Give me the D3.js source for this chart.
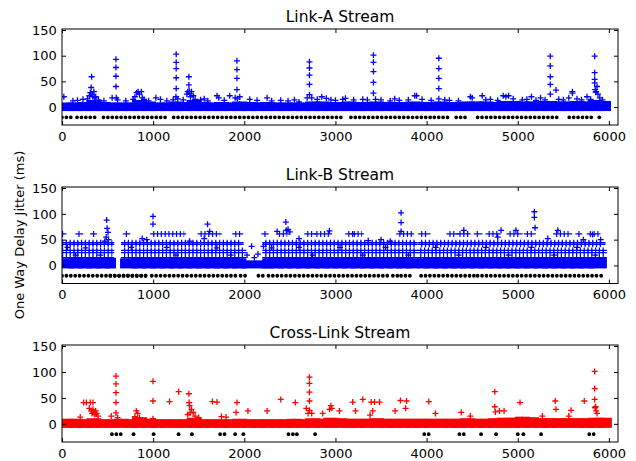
<!DOCTYPE html>
<html><head><meta charset="utf-8">
<script src="https://cdn.jsdelivr.net/npm/d3@7"></script>
<style>
body{margin:0;background:#fff}
text{font-family:"DejaVu Sans",sans-serif;fill:#000}
</style>
</head><body>
<svg id="chart" width="636" height="461"></svg>
<script>
// ---------------- data ----------------
const titles = ["Link-A Stream", "Link-B Stream", "Cross-Link Stream"];
const yLabel = "One Way Delay Jitter (ms)";
const xTicks = [0, 1000, 2000, 3000, 4000, 5000, 6000];
const yTicks = [0, 50, 100, 150];
const xDomain = [0, 6100];
const yDomain = [-35, 152];
const dropLevel = -20;

// dense band of samples: [x where band segment starts, top value of the band] (null = no samples)
const linkABandBottom = -2;
const linkABand = [[0,3],[100,3],[200,4],[300,8],[400,4],[500,3],[600,3],[700,3],[800,8],[900,5],
 [1000,3],[1100,3],[1200,5],[1300,4],[1400,8],[1500,4],[1600,3],[1700,4],[1800,3],[1900,5],
 [2000,4],[2100,3],[2200,4],[2300,3],[2400,3],[2500,3],[2600,3],[2700,5],[2800,5],[2900,4],
 [3000,4],[3100,5],[3200,4],[3300,4],[3400,5],[3500,4],[3600,4],[3700,4],[3800,5],[3900,4],
 [4000,4],[4100,5],[4200,4],[4300,4],[4400,5],[4500,5],[4600,5],[4700,4],[4800,6],[4900,6],
 [5000,5],[5100,5],[5200,6],[5300,6],[5400,5],[5500,5],[5600,6],[5700,5],[5800,8],[5900,6],[5990,null]];
const linkAOutliers = [[20,20],[120,12],[170,13],[230,15],[280,16],[300,22],[310,28],[320,38],[325,59],[330,25],
 [340,20],[350,30],[360,18],[370,20],[400,14],[460,12],[550,18],[592,93],[592,77],[592,60],[592,40],[595,18],
 [610,14],[700,12],[780,15],[800,20],[820,28],[835,30],[850,25],[870,30],[880,18],[900,15],[950,12],[1030,18],
 [1080,15],[1150,12],[1220,14],[1253,103],[1253,87],[1253,75],[1253,57],[1253,36],[1250,20],[1270,16],[1330,14],
 [1370,25],[1380,30],[1392,59],[1392,43],[1395,31],[1400,26],[1410,20],[1420,30],[1440,22],[1460,15],[1520,14],
 [1560,16],[1600,12],[1700,22],[1720,18],[1780,13],[1840,22],[1900,18],[1919,90],[1919,73],[1919,56],[1919,34],
 [1925,16],[1950,20],[2060,15],[2140,13],[2250,18],[2300,12],[2400,13],[2480,12],[2550,14],[2600,10],[2690,18],
 [2715,88],[2715,76],[2715,62],[2715,44],[2715,24],[2740,18],[2800,15],[2850,20],[2900,17],[2950,14],[3000,13],
 [3080,15],[3110,17],[3200,14],[3300,15],[3350,14],[3417,101],[3417,87],[3417,69],[3417,48],[3417,27],[3440,15],
 [3500,14],[3600,12],[3650,16],[3700,13],[3800,14],[3870,22],[3890,22],[3950,15],[4050,13],[4134,95],[4134,75],
 [4134,56],[4134,36],[4134,16],[4200,14],[4250,13],[4350,12],[4480,20],[4500,18],[4610,22],[4650,14],[4700,15],
 [4780,13],[4840,22],[4870,20],[4900,22],[4950,16],[5050,14],[5100,15],[5150,20],[5200,13],[5250,18],[5300,14],
 [5357,99],[5357,80],[5357,59],[5357,44],[5357,25],[5420,33],[5450,15],[5500,14],[5560,18],[5600,30],[5600,27],
 [5650,16],[5700,14],[5760,20],[5800,15],[5844,99],[5844,67],[5844,54],[5844,47],[5850,34],[5855,29],[5860,30],
 [5870,40],[5880,25],[5900,18],[5930,14]];
const linkARows = [];
// lost packets drawn at the drop level: [from x, to x]
const linkADrops = [[0,110],[165,385],[455,1170],[1225,1335],[1370,3080],[3170,4050],[4085,4270],[4325,4450],
 [4560,4910],[4945,5455],[5565,5840],[5895,5895]];

const linkBBandBottom = 0;
const linkBBand = [[0,8],[100,9],[200,8],[300,9],[400,9],[500,9],[560,null],[670,8],[800,9],[900,9],
 [1000,9],[1100,8],[1200,9],[1300,8],[1400,9],[1500,8],[1600,9],[1700,8],[1800,9],[1900,8],[1990,4],
 [2230,8],[2300,9],[2400,8],[2500,9],[2600,8],[2700,9],[2800,8],[2900,9],[3000,8],[3100,9],[3200,8],
 [3300,9],[3400,8],[3500,9],[3600,8],[3700,9],[3800,8],[3885,null],[3930,8],[4000,9],[4100,8],[4200,9],
 [4300,8],[4400,9],[4500,8],[4600,9],[4700,8],[4800,9],[4900,8],[5000,9],[5100,8],[5200,9],[5300,8],
 [5400,9],[5500,8],[5600,9],[5700,8],[5800,9],[5945,null]];
// quantised delay levels that form dense rows: [from x, to x, level]
const linkBRows = [[0,540,15],[680,1990,15],[2230,3880,15],[3930,5945,15],
 [0,540,25],[680,1990,25],[2230,3880,25],[3930,5945,25],
 [0,540,29],[680,1990,29],[2230,3880,29],[3930,5945,29],
 [0,540,41],[680,1960,41],[2230,3870,41],[3940,5930,41],
 [0,540,44],[680,1960,44],[2230,3870,44],[3940,5930,44],
 [0,15,61],[180,200,61],[340,350,61],[700,715,61],[1000,1330,61],[1520,1720,61],[1900,1955,61],[2220,2235,61],
 [2380,2460,61],[2690,2760,61],[2790,2930,61],[3140,3190,61],[3200,3280,61],[3700,3830,61],[3940,4010,61],
 [4250,4320,61],[4360,4450,61],[4550,4580,61],[4680,4780,61],[4910,5020,61],[5100,5165,61],[5420,5565,61],
 [5665,5675,61],[5790,5875,61]];
const linkBOutliers = [[490,88],[495,72],[505,64],[485,55],[510,50],[470,47],[998,95],[998,80],[1597,80],[1620,66],
 [2456,84],[2460,68],[2480,70],[2500,65],[2934,67],[3720,102],[3720,83],[3720,66],[4408,68],[4817,68],[4980,68],
 [5182,104],[5182,93],[5190,73],[5440,68],[5820,60],[2080,37],[2210,37],[930,50],[880,52],[1400,47],[1560,52],
 [2360,66],[2600,52],[3360,48],[3500,50],[3600,47],[4780,55],[5330,52],[5720,50],[5910,50],[2030,20],[2150,22],[2110,15],
 [60,35],[150,20],[260,34],[420,20],[760,35],[1150,35],[1250,20],[1700,34],[1850,20],[2300,34],[2600,35],[2750,20],
 [3050,35],[3300,20],[3550,35],[3800,20],[4100,35],[4350,20],[4650,35],[4900,20],[5150,35],[5400,20],[5650,35],[5850,20]];
const linkBDrops = [[0,930],[530,930],[985,1920],[1960,2010],[2155,2230],[2265,3575],[3630,3700],[3720,3850],
 [3940,4525],[4560,5875],[5915,5915]];

const crossBandBottom = -2;
const crossBand = [[0,4],[100,4],[200,3],[300,5],[400,3],[500,3],[600,4],[700,3],[800,7],[900,4],
 [1000,3],[1100,3],[1200,3],[1300,3],[1400,6],[1500,3],[1600,3],[1700,3],[1800,3],[1900,4],
 [2000,3],[2100,3],[2200,3],[2300,3],[2400,3],[2500,4],[2600,3],[2700,5],[2800,4],[2900,6],
 [3000,5],[3100,4],[3200,4],[3300,4],[3400,5],[3500,4],[3600,4],[3700,4],[3800,4],[3900,4],
 [4000,4],[4100,4],[4200,4],[4300,4],[4400,5],[4500,4],[4600,4],[4700,5],[4800,6],[4900,6],
 [5000,8],[5100,7],[5200,5],[5300,5],[5400,5],[5500,5],[5600,5],[5700,5],[5800,6],[5900,6],[6000,null]];
const crossOutliers = [[237,41],[267,41],[310,41],[340,41],[300,30],[320,25],[330,20],[340,28],[350,22],[360,18],
 [370,25],[380,20],[395,15],[200,13],[540,15],[592,92],[592,77],[592,60],[592,41],[592,21],[610,12],[800,14],
 [815,25],[830,20],[850,12],[998,82],[998,44],[998,10],[1180,43],[1280,62],[1380,18],[1392,58],[1395,41],
 [1400,35],[1405,21],[1420,28],[1440,22],[1460,15],[1500,12],[1650,43],[1700,42],[1750,14],[1800,13],[1910,22],
 [1920,41],[2040,25],[2250,25],[2400,47],[2560,41],[2680,30],[2700,20],[2715,90],[2715,78],[2715,61],[2715,44],
 [2715,26],[2740,20],[2860,20],[2935,28],[2950,35],[2960,30],[3044,25],[3190,42],[3220,25],[3300,47],[3380,17],
 [3392,42],[3410,25],[3429,42],[3484,42],[3654,25],[3713,45],[3770,30],[3780,44],[4024,43],[4097,20],[4380,22],
 [4480,15],[4748,62],[4748,33],[4755,23],[4800,25],[4850,25],[5025,41],[5270,15],[5412,44],[5420,28],[5560,15],
 [5585,26],[5730,44],[5844,101],[5844,68],[5844,47],[5848,31],[5855,33],[5860,25],[5870,20]];
const crossRows = [];
const crossDrops = [[548,658],[785,822],[1005,1005],[1279,1279],[1425,1425],[1735,1810],[1900,1900],[1990,1990],
 [2485,2540],[2577,2615],[2777,2777],[3975,4030],[4360,4420],[4598,4598],[4762,4762],[5000,5000],[5062,5062],
 [5256,5256],[5785,5860]];

const colors = ["#0000ff", "#0000ff", "#ff0000"];

// ---------------- drawing ----------------
const panels = [
  {title: titles[0], band: linkABand, bottom: linkABandBottom, rows: linkARows, pts: linkAOutliers, drops: linkADrops, color: colors[0], top: 29, h: 96},
  {title: titles[1], band: linkBBand, bottom: linkBBandBottom, rows: linkBRows, pts: linkBOutliers, drops: linkBDrops, color: colors[1], top: 187, h: 96.5},
  {title: titles[2], band: crossBand, bottom: crossBandBottom, rows: crossRows, pts: crossOutliers, drops: crossDrops, color: colors[2], top: 345, h: 97}
];
const L = 62, R = 618;
const svg = d3.select("#chart");
const x = d3.scaleLinear().domain(xDomain).range([L, R]);
const plus = "M-3,0H3M0,-3V3";

panels.forEach((p, i) => {
  const y = d3.scaleLinear().domain(yDomain).range([p.top + p.h, p.top]);
  const g = svg.append("g");
  const clipId = "clip" + i;
  svg.append("clipPath").attr("id", clipId).append("rect")
    .attr("x", L).attr("y", p.top).attr("width", R - L).attr("height", p.h);
  const plot = g.append("g").attr("clip-path", `url(#${clipId})`);

  // dense band
  const segs = d3.pairs(p.band).filter(([a]) => a[1] !== null);
  plot.append("g").selectAll("rect").data(segs).join("rect")
    .attr("x", d => x(d[0][0]) - 3)
    .attr("width", d => x(d[1][0]) - x(d[0][0]) + 6)
    .attr("y", d => y(d[0][1]) - 3)
    .attr("height", d => y(p.bottom) - y(d[0][1]) + 6)
    .attr("fill", p.color);

  // rows of quantised levels (drawn as runs of overlapping '+' markers)
  const rowG = plot.append("g").attr("stroke", p.color);
  rowG.selectAll("line.h").data(p.rows).join("line").attr("class", "h")
    .attr("x1", d => x(d[0]) - 3).attr("x2", d => x(d[1]) + 3)
    .attr("y1", d => y(d[2])).attr("y2", d => y(d[2]))
    .attr("stroke-width", 1.3);
  rowG.selectAll("line.v").data(p.rows).join("line").attr("class", "v")
    .attr("x1", d => x(d[0])).attr("x2", d => x(d[1]) + 1)
    .attr("y1", d => y(d[2])).attr("y2", d => y(d[2]))
    .attr("stroke-width", 6).attr("stroke-dasharray", "1.2 2.6");

  // band top markers
  plot.append("g").selectAll("path").data(segs).join("path")
    .attr("d", plus)
    .attr("transform", d => `translate(${x((d[0][0] + d[1][0]) / 2)},${y(d[0][1])})`)
    .attr("stroke", p.color).attr("stroke-width", 1.3).attr("fill", "none");

  // outliers
  plot.append("g").selectAll("path").data(p.pts).join("path")
    .attr("d", plus)
    .attr("transform", d => `translate(${x(d[0])},${y(d[1])})`)
    .attr("stroke", p.color).attr("stroke-width", 1.3).attr("fill", "none");

  // lost packets
  const dg = plot.append("g");
  dg.selectAll("line").data(p.drops.filter(d => d[1] > d[0])).join("line")
    .attr("x1", d => x(d[0])).attr("x2", d => x(d[1]))
    .attr("y1", y(dropLevel)).attr("y2", y(dropLevel))
    .attr("stroke", "#000").attr("stroke-width", 3.8)
    .attr("stroke-linecap", "round").attr("stroke-dasharray", "0 4.4");
  dg.selectAll("circle").data(p.drops.filter(d => d[1] === d[0])).join("circle")
    .attr("cx", d => x(d[0])).attr("cy", y(dropLevel)).attr("r", 1.9).attr("fill", "#000");

  // axes (ticks inward on all four sides)
  const bottom = p.top + p.h;
  const ax = g.append("g").attr("transform", `translate(0,${bottom})`)
    .call(d3.axisBottom(x).tickValues(xTicks).tickSize(-4).tickPadding(6.5).tickFormat(d3.format("d")));
  const axT = g.append("g").attr("transform", `translate(0,${p.top})`)
    .call(d3.axisTop(x).tickValues(xTicks).tickSize(-4).tickFormat(""));
  const ay = g.append("g").attr("transform", `translate(${L},0)`)
    .call(d3.axisLeft(y).tickValues(yTicks).tickSize(-4).tickPadding(5.3).tickFormat(d3.format("d")));
  const ayR = g.append("g").attr("transform", `translate(${R},0)`)
    .call(d3.axisRight(y).tickValues(yTicks).tickSize(-4).tickFormat(""));
  [ax, axT, ay, ayR].forEach(a => {
    a.select(".domain").remove();
    a.selectAll("line").attr("stroke", "#000").attr("stroke-width", 1);
    a.selectAll("text").attr("font-size", 13).attr("font-family", "DejaVu Sans, sans-serif").attr("fill", "#000");
  });

  g.append("rect").attr("x", L).attr("y", p.top).attr("width", R - L).attr("height", p.h)
    .attr("fill", "none").attr("stroke", "#000").attr("stroke-width", 1);

  g.append("text").attr("x", (L + R) / 2).attr("y", p.top - 7)
    .attr("text-anchor", "middle").attr("font-size", 15.5).text(p.title);
});

svg.append("text")
  .attr("transform", "translate(24,235) rotate(-90)")
  .attr("text-anchor", "middle").attr("font-size", 13).text(yLabel);
</script>
</body></html>
